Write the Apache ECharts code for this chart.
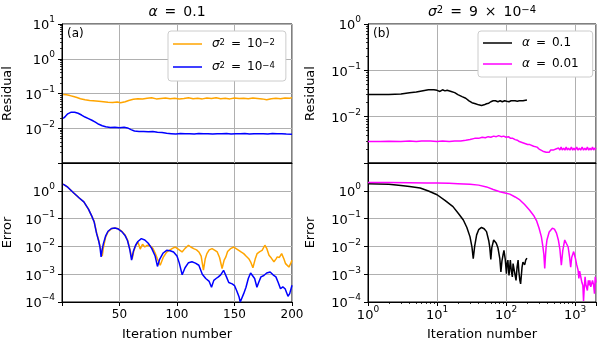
<!DOCTYPE html>
<html>
<head>
<meta charset="UTF-8">
<title>Residual and error vs iteration</title>
<script src="https://cdn.jsdelivr.net/npm/echarts@6/dist/echarts.min.js"></script>
<style>
  body { margin: 0; background: #fff; }
  #main { width: 600px; height: 350px; }
</style>
</head>
<body>
<div id="main"></div>
<script>
// (a) alpha = 0.1, residual
var resItA = [1, 4, 7, 10, 13, 16, 20, 24, 27, 32, 36, 40, 44, 48, 51, 55, 58, 62, 66, 70, 74, 78, 82, 86, 90, 94, 98, 102, 106, 110, 114, 118, 122, 126, 130, 134, 138, 142, 146, 150, 154, 158, 162, 166, 170, 174, 178, 182, 186, 190, 194, 198, 200];
var resOrange = [0.094, 0.092, 0.087, 0.082, 0.077, 0.071, 0.066, 0.063, 0.062, 0.060, 0.058, 0.056, 0.055, 0.057, 0.054, 0.058, 0.063, 0.068, 0.071, 0.070, 0.073, 0.075, 0.070, 0.072, 0.074, 0.071, 0.073, 0.070, 0.072, 0.075, 0.071, 0.073, 0.070, 0.074, 0.072, 0.075, 0.071, 0.073, 0.070, 0.074, 0.072, 0.073, 0.071, 0.074, 0.072, 0.070, 0.066, 0.071, 0.073, 0.071, 0.074, 0.073, 0.076];
var resItB = [1, 3, 5, 8, 11, 14, 17, 20, 23, 26, 29, 32, 35, 38, 42, 46, 50, 54, 57, 60, 63, 67, 71, 75, 79, 83, 87, 91, 95, 99, 103, 107, 111, 115, 119, 123, 127, 131, 135, 139, 143, 147, 151, 155, 159, 163, 167, 171, 175, 179, 183, 187, 191, 195, 200];
var resBlue = [0.019, 0.022, 0.026, 0.029, 0.029, 0.027, 0.024, 0.021, 0.019, 0.017, 0.015, 0.013, 0.0118, 0.011, 0.0105, 0.0106, 0.0104, 0.0107, 0.0102, 0.0091, 0.0083, 0.0081, 0.0080, 0.0079, 0.0080, 0.0077, 0.0075, 0.0072, 0.0070, 0.0068, 0.0071, 0.0069, 0.0070, 0.0068, 0.0071, 0.0069, 0.0070, 0.0068, 0.0070, 0.0069, 0.0071, 0.0068, 0.0070, 0.0069, 0.0071, 0.0068, 0.0070, 0.0069, 0.0070, 0.0068, 0.0071, 0.0069, 0.0070, 0.0068, 0.0067];

// (a) error
var errItB = [1, 5, 10, 15, 19, 23, 26, 28, 30, 32, 33, 34, 35, 36, 38, 40, 43, 46, 49, 52, 55, 57, 59, 60.5, 62, 64, 66, 69, 72, 75, 78, 81, 83, 85, 88, 91, 94, 97, 100, 102, 104.5, 107, 110, 113, 116, 119, 122, 125, 128, 130, 132, 134, 136, 138, 140.5, 143, 145, 148, 150, 152, 154, 155, 156.5, 158, 160, 162, 164, 165.5, 167.5, 169.5, 171, 173, 175.5, 178, 181, 183.5, 186, 188, 190, 192, 194, 196.5, 198, 200];
var errBlue = [1.75, 1.35, 0.85, 0.55, 0.40, 0.22, 0.12, 0.075, 0.03, 0.015, 0.0095, 0.0042, 0.008, 0.0126, 0.024, 0.035, 0.044, 0.046, 0.042, 0.034, 0.024, 0.016, 0.0075, 0.0032, 0.0065, 0.011, 0.015, 0.019, 0.017, 0.013, 0.0085, 0.0045, 0.0019, 0.0035, 0.0058, 0.0072, 0.0070, 0.0063, 0.0045, 0.0025, 0.00095, 0.0017, 0.0026, 0.0028, 0.0025, 0.0021, 0.0010, 0.0007, 0.00055, 0.00034, 0.0006, 0.0007, 0.0008, 0.00095, 0.00138, 0.0008, 0.0005, 0.00045, 0.00039, 0.00025, 0.00015, 0.0001, 0.00011, 0.0002, 0.00034, 0.0007, 0.0011, 0.0012, 0.0007, 0.00034, 0.0005, 0.0008, 0.0009, 0.0011, 0.0012, 0.00095, 0.0008, 0.0005, 0.0003, 0.00035, 0.0003, 0.00016, 0.0002, 0.0004];
var errItA = [1, 5, 10, 15, 19, 23, 26, 28, 30, 32, 33, 35, 36, 38, 40, 43, 46, 49, 52, 55, 57, 59, 61, 62.5, 64, 66, 67, 68, 70, 72, 74, 76.7, 79, 81, 83, 85.4, 88, 91, 94, 96, 98.5, 101, 104.4, 107, 110, 112, 114.5, 117, 119, 121, 123, 124.5, 126, 128, 130.5, 133, 135, 137, 139.2, 141, 142.5, 144, 146.5, 149.4, 151, 153.7, 156, 158, 160, 162.4, 164, 166, 168, 169.7, 172, 174, 176.4, 178, 180, 182, 184.3, 186, 187.2, 189, 191, 193, 194.4, 196, 197.3, 199, 200];
var errOrange = [1.75, 1.35, 0.85, 0.55, 0.40, 0.22, 0.12, 0.078, 0.032, 0.016, 0.0105, 0.0045, 0.009, 0.022, 0.033, 0.043, 0.046, 0.043, 0.035, 0.025, 0.017, 0.008, 0.0035, 0.007, 0.0105, 0.0145, 0.011, 0.008, 0.012, 0.0095, 0.011, 0.0105, 0.0085, 0.0058, 0.0035, 0.0021, 0.004, 0.0062, 0.0075, 0.0085, 0.0095, 0.008, 0.0063, 0.0085, 0.011, 0.0095, 0.0083, 0.0075, 0.0063, 0.0045, 0.0014, 0.0035, 0.0055, 0.0075, 0.0083, 0.0072, 0.0063, 0.004, 0.0016, 0.0032, 0.0042, 0.0065, 0.0083, 0.0095, 0.0085, 0.0072, 0.0062, 0.0055, 0.0045, 0.0036, 0.0028, 0.0017, 0.0035, 0.0055, 0.0065, 0.0072, 0.011, 0.0085, 0.0048, 0.0038, 0.0028, 0.0035, 0.0042, 0.004, 0.0055, 0.0035, 0.0024, 0.0022, 0.0018, 0.0025, 0.0032];

// (b) sigma^2 = 9e-4, residual
var resItBlack = [1, 2, 3, 4, 5, 6, 7.5, 9, 10, 11, 12, 13, 14, 16, 18, 20, 23, 26, 29, 32, 36, 40, 44, 48, 52, 56, 60, 65, 70, 76, 82, 88, 95, 102, 110, 118, 126, 135, 145, 155, 165, 175, 185, 200];
var resBlack = [0.030, 0.030, 0.031, 0.033, 0.034, 0.036, 0.038, 0.038, 0.037, 0.035, 0.038, 0.036, 0.037, 0.035, 0.033, 0.030, 0.027, 0.025, 0.022, 0.020, 0.019, 0.018, 0.0175, 0.018, 0.019, 0.0195, 0.021, 0.022, 0.022, 0.021, 0.022, 0.021, 0.022, 0.0215, 0.021, 0.022, 0.0215, 0.022, 0.0215, 0.022, 0.021, 0.022, 0.0225, 0.023];
var resItMag = [1, 1.5, 2, 3, 4, 5, 6, 8, 10, 12, 15, 18, 22, 26, 30, 35, 40, 45, 50, 55, 60, 66, 72, 78, 85, 92, 100, 108, 116, 125, 135, 145, 155, 165, 178, 190, 205, 220, 235, 250, 265, 280, 300, 320, 340, 360, 380, 400, 420, 440, 460, 480, 500, 525, 550, 575, 600, 625, 650, 680, 710, 740, 770, 800, 840, 880, 920, 960, 1000, 1050, 1100, 1150, 1200, 1260, 1320, 1380, 1440, 1500, 1570, 1640, 1710, 1780, 1850, 1920, 2000];
var resMag = [0.0029, 0.0029, 0.00295, 0.0029, 0.0030, 0.0029, 0.0030, 0.0030, 0.0029, 0.0030, 0.0029, 0.0030, 0.0030, 0.0031, 0.0032, 0.0034, 0.0034, 0.0036, 0.0035, 0.0037, 0.0036, 0.0038, 0.0037, 0.0039, 0.0037, 0.0038, 0.0036, 0.0037, 0.0034, 0.0034, 0.0032, 0.0031, 0.0029, 0.0029, 0.0027, 0.0027, 0.0025, 0.0025, 0.0023, 0.0023, 0.0021, 0.0022, 0.0020, 0.0020, 0.0018, 0.0019, 0.0017, 0.0018, 0.0017, 0.0019, 0.0018, 0.0019, 0.0018, 0.0020, 0.0019, 0.0021, 0.0019, 0.0022, 0.0019, 0.0021, 0.0019, 0.0022, 0.0019, 0.0021, 0.0019, 0.0022, 0.0019, 0.0021, 0.0019, 0.0022, 0.0019, 0.0021, 0.0019, 0.0022, 0.0019, 0.0021, 0.0019, 0.0022, 0.0019, 0.0021, 0.0019, 0.0022, 0.0019, 0.0021, 0.0020];

// (b) error
var errItBlack = [1, 2, 3, 4, 5.7, 7.5, 10, 13, 17, 20.5, 24, 27, 30, 32, 33.4, 35, 37.4, 40, 44, 48, 52, 56, 58, 60, 62, 66, 69, 72, 76, 81, 84, 87, 90, 93, 97, 101, 103, 106, 110, 115, 119, 123, 126, 130, 135, 139, 144, 149, 153, 158, 162, 166, 170, 175, 180, 186, 192, 196, 200];
var errBlack = [1.8, 1.72, 1.55, 1.42, 1.26, 0.98, 0.72, 0.45, 0.27, 0.15, 0.089, 0.048, 0.022, 0.0095, 0.0036, 0.01, 0.026, 0.04, 0.048, 0.043, 0.034, 0.016, 0.009, 0.0034, 0.009, 0.017, 0.016, 0.013, 0.009, 0.0036, 0.0012, 0.003, 0.0048, 0.0072, 0.0035, 0.00105, 0.0024, 0.0032, 0.0009, 0.0032, 0.0013, 0.0008, 0.0024, 0.0021, 0.0009, 0.0006, 0.0018, 0.0032, 0.0012, 0.0006, 0.00045, 0.00046, 0.0018, 0.0027, 0.0028, 0.0022, 0.0032, 0.0036, 0.0038];
var errItMag = [1, 2, 4, 7, 10, 15, 20, 30, 40, 52, 65, 81, 100, 113, 135, 158, 185, 219, 250, 275, 300, 324, 340, 352, 362, 372, 380, 390, 420, 467, 500, 536, 570, 600, 630, 660, 705, 750, 790, 830, 860, 890, 950, 1000, 1050, 1100, 1130, 1160, 1210, 1250, 1290, 1320, 1350, 1390, 1430, 1470, 1500, 1550, 1600, 1630, 1680, 1720, 1780, 1850, 1900, 1950, 2000];
var errMag = [2.0, 1.98, 1.95, 1.92, 1.9, 1.85, 1.8, 1.72, 1.6, 1.38, 1.12, 0.92, 0.82, 0.76, 0.6, 0.47, 0.32, 0.2, 0.13, 0.085, 0.045, 0.022, 0.01, 0.005, 0.0016, 0.005, 0.01, 0.017, 0.033, 0.045, 0.042, 0.03, 0.017, 0.008, 0.0021, 0.007, 0.017, 0.016, 0.0095, 0.004, 0.0018, 0.004, 0.0065, 0.004, 0.0022, 0.0014, 0.0007, 0.0013, 0.0014, 0.0005, 0.0004, 0.00011, 0.0003, 0.0008, 0.0004, 0.00035, 0.00026, 0.0006, 0.0004, 0.0006, 0.00035, 0.0003, 0.0006, 0.0004, 0.0002, 0.0008, 0.0005];

// minor tick positions on the log axes
var minorY3to1 = [0.002, 0.003, 0.004, 0.005, 0.006, 0.007, 0.008, 0.009, 0.02, 0.03, 0.04, 0.05, 0.06, 0.07, 0.08, 0.09, 0.2, 0.3, 0.4, 0.5, 0.6, 0.7, 0.8, 0.9, 2, 3, 4, 5, 6, 7, 8, 9];
var minorY3to0 = [0.002, 0.003, 0.004, 0.005, 0.006, 0.007, 0.008, 0.009, 0.02, 0.03, 0.04, 0.05, 0.06, 0.07, 0.08, 0.09, 0.2, 0.3, 0.4, 0.5, 0.6, 0.7, 0.8, 0.9];
var minorX = [2, 3, 4, 5, 6, 7, 8, 9, 20, 30, 40, 50, 60, 70, 80, 90, 200, 300, 400, 500, 600, 700, 800, 900, 2000];

var FONT = 'DejaVu Sans';
var ORANGE = '#ffa500', BLUE = '#0000ff', BLACK = '#000000', MAGENTA = '#ff00ff';
var EQ = '\u2002=\u2002'; // wider spacing around "=" like mathtext

function pair(xs, ys) {
    return xs.map(function (x, i) { return [x, ys[i]]; });
}

function powLabel(lo, hi) {
    return function (v) {
        var l = Math.log10(v);
        var e = Math.round(l);
        if (Math.abs(l - e) > 1e-6 || e < lo || e > hi) return '';
        return '{b|10}{s|' + (e < 0 ? '\u2212' + (-e) : e) + '}';
    };
}

var powRich = {
    b: { fontSize: 13, fontFamily: FONT, color: '#000', padding: [4, 0, 0, 0] },
    s: { fontSize: 9, fontFamily: FONT, color: '#000', verticalAlign: 'top' }
};

var gridLine = { show: true, lineStyle: { color: '#b0b0b0', width: 1 } };
var blackLine = { show: true, onZero: false, lineStyle: { color: '#000', width: 1 } };
var majorTick = { show: true, inside: false, length: 4, lineStyle: { color: '#000', width: 1 } };
var nameStyle = { fontSize: 13, fontFamily: FONT, color: '#000' };

function grid(left, top, width) {
    return { left: left, top: top, width: width, height: 139, show: true, borderColor: '#000', borderWidth: 1, backgroundColor: '#fff', containLabel: false, outerBoundsMode: 'none' };
}

function line(name, xi, yi, data, color) {
    return { name: name, type: 'line', xAxisIndex: xi, yAxisIndex: yi, data: data, symbol: 'none', showSymbol: false, color: color, lineStyle: { color: color, width: 1.5 }, animation: false };
}

function legend(names, left, gap, pad, fmt, rich) {
    return {
        data: names, orient: 'vertical', left: left, top: 31, icon: 'rect', itemWidth: 29, itemHeight: 1.5, itemGap: gap,
        padding: pad, backgroundColor: '#fff', borderColor: '#cccccc', borderWidth: 1, borderRadius: 3,
        formatter: fmt,
        textStyle: { fontSize: 12, fontFamily: FONT, color: '#000', padding: [0, 0, 0, 5], rich: rich }
    };
}

var chart = echarts.init(document.getElementById('main'));

var option = {
    animation: false,
    backgroundColor: '#fff',
    textStyle: { fontFamily: FONT },
    grid: [grid(62, 24, 230), grid(62, 163, 230), grid(368, 24, 228), grid(368, 163, 228)],
    xAxis: [
        { type: 'value', gridIndex: 0, min: 0, max: 200, interval: 50, axisLine: blackLine, axisTick: { show: false }, axisLabel: { show: false }, splitLine: gridLine },
        { type: 'value', gridIndex: 1, min: 0, max: 200, interval: 50, axisLine: blackLine, axisTick: majorTick, splitLine: gridLine,
          axisLabel: { margin: 7, fontSize: 12, fontFamily: FONT, color: '#000', formatter: function (v) { return v === 0 ? '' : String(v); } },
          name: 'Iteration number', nameLocation: 'middle', nameGap: 26, nameTextStyle: nameStyle },
        { type: 'log', gridIndex: 2, min: 1, max: 2000, axisLine: blackLine, axisTick: { show: false }, axisLabel: { show: false }, splitLine: gridLine },
        { type: 'log', gridIndex: 3, min: 1, max: 2000, axisLine: blackLine, axisTick: majorTick, splitLine: gridLine,
          axisLabel: { margin: 3, formatter: powLabel(0, 3), rich: powRich },
          name: 'Iteration number', nameLocation: 'middle', nameGap: 26, nameTextStyle: nameStyle },
        { type: 'log', gridIndex: 3, position: 'bottom', offset: 0, min: 1, max: 2000, axisLine: { show: false }, splitLine: { show: false }, axisLabel: { show: false },
          axisTick: { show: true, inside: false, length: 2, customValues: minorX, lineStyle: { color: '#000', width: 0.8 } } }
    ],
    yAxis: [
        { type: 'log', gridIndex: 0, min: 0.001, max: 10, axisLine: blackLine, axisTick: majorTick, splitLine: gridLine,
          axisLabel: { margin: 7, formatter: powLabel(-2, 1), rich: powRich },
          name: 'Residual', nameLocation: 'middle', nameGap: 48, nameTextStyle: nameStyle },
        { type: 'log', gridIndex: 1, min: 0.0001, max: 10, axisLine: blackLine, axisTick: majorTick, splitLine: gridLine,
          axisLabel: { margin: 7, formatter: powLabel(-4, 0), rich: powRich },
          name: 'Error', nameLocation: 'middle', nameGap: 48, nameTextStyle: nameStyle },
        { type: 'log', gridIndex: 2, min: 0.001, max: 1, axisLine: blackLine, axisTick: majorTick, splitLine: gridLine,
          axisLabel: { margin: 7, formatter: powLabel(-2, 0), rich: powRich },
          name: 'Residual', nameLocation: 'middle', nameGap: 51, nameTextStyle: nameStyle },
        { type: 'log', gridIndex: 3, min: 0.0001, max: 10, axisLine: blackLine, axisTick: majorTick, splitLine: gridLine,
          axisLabel: { margin: 7, formatter: powLabel(-4, 0), rich: powRich },
          name: 'Error', nameLocation: 'middle', nameGap: 51, nameTextStyle: nameStyle },
        { type: 'log', gridIndex: 0, position: 'left', offset: 0, min: 0.001, max: 10, axisLine: { show: false }, splitLine: { show: false }, axisLabel: { show: false },
          axisTick: { show: true, inside: false, length: 2, customValues: minorY3to1, lineStyle: { color: '#000', width: 0.8 } } },
        { type: 'log', gridIndex: 2, position: 'left', offset: 0, min: 0.001, max: 1, axisLine: { show: false }, splitLine: { show: false }, axisLabel: { show: false },
          axisTick: { show: true, inside: false, length: 2, customValues: minorY3to0, lineStyle: { color: '#000', width: 0.8 } } }
    ],
    legend: [
        legend(['s2', 's4'], 168, 11, [7, 11, 8, 5],
            function (n) { return '{i|σ}{s|2}' + EQ + '10{s|\u2212' + (n === 's2' ? '2' : '4') + '}'; },
            { i: { fontStyle: 'italic', fontSize: 12, fontFamily: FONT }, s: { fontSize: 8.5, fontFamily: FONT, verticalAlign: 'top' } }),
        legend(['a1', 'a01'], 478, 9, [6, 14, 7, 5],
            function (n) { return '{i|α}' + EQ + (n === 'a1' ? '0.1' : '0.01'); },
            { i: { fontStyle: 'italic', fontSize: 12, fontFamily: FONT } })
    ],
    graphic: [
        { type: 'text', x: 177, y: 12, style: { text: '{i|α}' + EQ + '0.1', fontSize: 14, fontFamily: FONT, fill: '#000', align: 'center', verticalAlign: 'middle',
            rich: { i: { fontStyle: 'italic', fontSize: 14, fontFamily: FONT, fill: '#000' } } } },
        { type: 'text', x: 482, y: 12, style: { text: '{i|σ}{s|2}' + EQ + '9\u2002×\u200210{s|\u22124}', fontSize: 14, fontFamily: FONT, fill: '#000', align: 'center', verticalAlign: 'middle',
            rich: { i: { fontStyle: 'italic', fontSize: 14, fontFamily: FONT, fill: '#000' }, s: { fontSize: 10, fontFamily: FONT, fill: '#000', verticalAlign: 'top' } } } },
        { type: 'text', x: 67, y: 34, z: 10, style: { text: '(a)', fontSize: 12, fontFamily: FONT, fill: '#000', verticalAlign: 'middle' } },
        { type: 'text', x: 373, y: 34, z: 10, style: { text: '(b)', fontSize: 12, fontFamily: FONT, fill: '#000', verticalAlign: 'middle' } }
    ],
    series: [
        line('s2', 0, 0, pair(resItA, resOrange), ORANGE),
        line('s4', 0, 0, pair(resItB, resBlue), BLUE),
        line('s2', 1, 1, pair(errItA, errOrange), ORANGE),
        line('s4', 1, 1, pair(errItB, errBlue), BLUE),
        line('a1', 2, 2, pair(resItBlack, resBlack), BLACK),
        line('a01', 2, 2, pair(resItMag, resMag), MAGENTA),
        line('a1', 3, 3, pair(errItBlack, errBlack), BLACK),
        line('a01', 3, 3, pair(errItMag, errMag), MAGENTA)
    ]
};

chart.setOption(option);
</script>
</body>
</html>
